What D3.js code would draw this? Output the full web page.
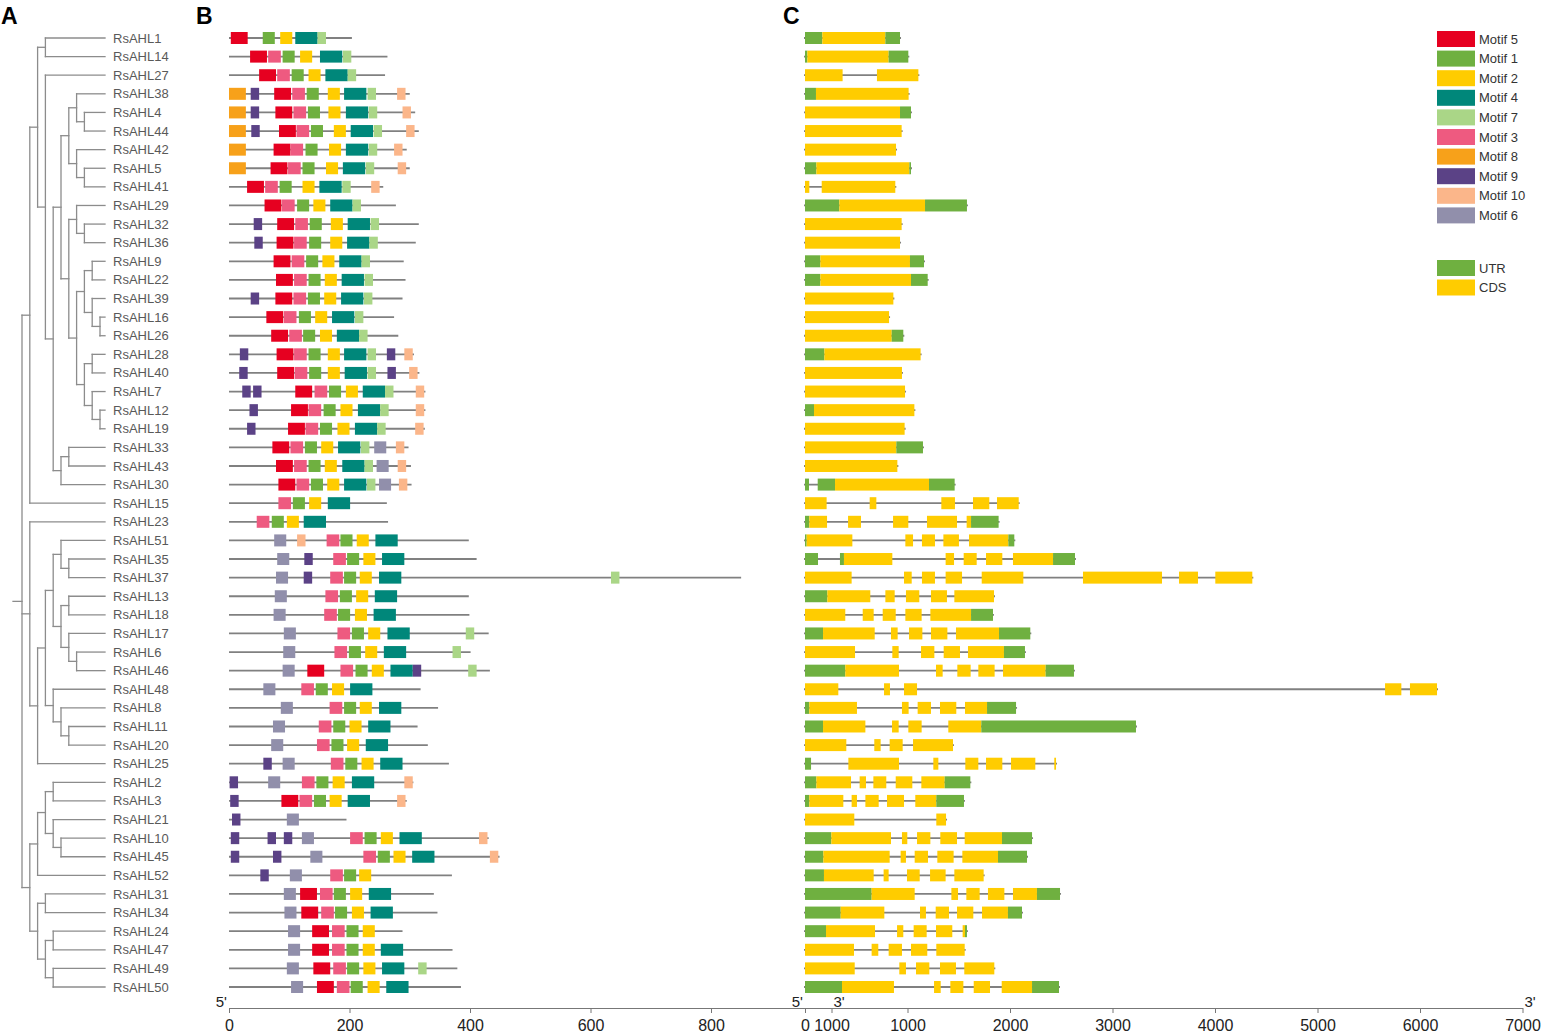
<!DOCTYPE html>
<html lang="en">
<head>
<meta charset="UTF-8" />
<title>RsAHL motifs and gene structure</title>
<script src="https://cdn.jsdelivr.net/npm/d3@7"></script>
<style>
  body { margin: 0; background: #fff; }
  svg text { font-family: Arial, "Liberation Sans", sans-serif; }
</style>
</head>
<body>
<div class="chart"></div>
<script>
// gene order (top to bottom)
var genes = ['RsAHL1','RsAHL14','RsAHL27','RsAHL38','RsAHL4','RsAHL44','RsAHL42','RsAHL5','RsAHL41','RsAHL29',
  'RsAHL32','RsAHL36','RsAHL9','RsAHL22','RsAHL39','RsAHL16','RsAHL26','RsAHL28','RsAHL40','RsAHL7',
  'RsAHL12','RsAHL19','RsAHL33','RsAHL43','RsAHL30','RsAHL15','RsAHL23','RsAHL51','RsAHL35','RsAHL37',
  'RsAHL13','RsAHL18','RsAHL17','RsAHL6','RsAHL46','RsAHL48','RsAHL8','RsAHL11','RsAHL20','RsAHL25',
  'RsAHL2','RsAHL3','RsAHL21','RsAHL10','RsAHL45','RsAHL52','RsAHL31','RsAHL34','RsAHL24','RsAHL47',
  'RsAHL49','RsAHL50']

// tree topology as nested lists
var tree = [
  [[['RsAHL1', 'RsAHL14'],
    ['RsAHL27', [[[['RsAHL38', ['RsAHL4', 'RsAHL44']], ['RsAHL42', ['RsAHL5', 'RsAHL41']]],
      [['RsAHL29', ['RsAHL32', 'RsAHL36']],
       [[['RsAHL9', 'RsAHL22'], ['RsAHL39', ['RsAHL16', 'RsAHL26']]],
        [['RsAHL28', 'RsAHL40'], ['RsAHL7', ['RsAHL12', 'RsAHL19']]]]]],
     [['RsAHL33', 'RsAHL43'], 'RsAHL30']]]], 'RsAHL15'],
  ['RsAHL23', [[[['RsAHL51', ['RsAHL35', 'RsAHL37']], [['RsAHL13', 'RsAHL18'], ['RsAHL17', ['RsAHL6', 'RsAHL46']]]],
    ['RsAHL48', ['RsAHL8', ['RsAHL11', 'RsAHL20']]]], 'RsAHL25']],
  [[[['RsAHL2', 'RsAHL3'], ['RsAHL21', ['RsAHL10', 'RsAHL45']]], 'RsAHL52'],
   [['RsAHL31', 'RsAHL34'], [['RsAHL24', 'RsAHL47'], ['RsAHL49', 'RsAHL50']]]]
]

// legend order of motifs
var motifOrder = [5, 1, 2, 4, 7, 3, 8, 9, 10, 6]
var motifColor = { 5: '#E60020', 1: '#6FB040', 2: '#FFCC00', 4: '#00877A', 7: '#AAD687',
  3: '#EE5A80', 8: '#F7A11A', 9: '#5B4286', 10: '#FBB68A', 6: '#918FAB' }
// motif widths (aa)
var motifWidth = { 5: 28, 1: 20, 2: 20, 4: 37, 7: 14, 3: 21, 8: 28, 9: 14, 10: 14, 6: 20 }

// protein length (aa)
var proteinLen = [204, 263, 259, 300, 309, 315, 295, 300, 256, 277,
  315, 310, 290, 293, 288, 274, 281, 307, 316, 326,
  326, 325, 298, 302, 303, 262, 264, 398, 411, 850,
  398, 399, 431, 401, 433, 318, 347, 313, 330, 365,
  306, 295, 195, 431, 449, 370, 340, 346, 288, 371,
  379, 385]

// motif sites: [motif, start aa]
var motifSites = [
  [[5,3],[1,56],[2,85],[4,110],[7,147]],
  [[5,35],[3,65],[1,89],[2,118],[4,151],[7,189]],
  [[5,50],[3,80],[1,104],[2,132],[4,160],[7,197]],
  [[8,0],[9,36],[5,75],[3,105],[1,129],[2,164],[4,191],[7,230],[10,279]],
  [[8,0],[9,36],[5,77],[3,107],[1,131],[2,165],[4,194],[7,232],[10,288]],
  [[8,0],[9,37],[5,83],[3,112],[1,136],[2,174],[4,202],[7,240],[10,294]],
  [[8,0],[5,74],[3,102],[1,127],[2,166],[4,194],[7,232],[10,274]],
  [[8,0],[5,69],[3,98],[1,122],[2,161],[4,189],[7,227],[10,280]],
  [[5,30],[3,60],[1,84],[2,122],[4,150],[7,188],[10,236]],
  [[5,59],[3,88],[1,113],[2,140],[4,168],[7,205]],
  [[9,41],[5,80],[3,110],[1,134],[2,169],[4,197],[7,235]],
  [[9,42],[5,79],[3,108],[1,133],[2,168],[4,196],[7,233]],
  [[5,74],[3,104],[1,128],[2,155],[4,183],[7,220]],
  [[5,78],[3,108],[1,132],[2,159],[4,187],[7,225]],
  [[9,36],[5,77],[3,107],[1,131],[2,158],[4,186],[7,224]],
  [[5,62],[3,91],[1,116],[2,143],[4,171],[7,209]],
  [[5,70],[3,100],[1,123],[2,151],[4,179],[7,216]],
  [[9,18],[5,79],[3,108],[1,132],[2,164],[4,191],[7,230],[9,262],[10,291]],
  [[9,17],[5,80],[3,109],[1,133],[2,164],[4,192],[7,230],[9,263],[10,299]],
  [[9,22],[9,40],[5,110],[3,142],[1,166],[2,194],[4,222],[7,259],[10,310]],
  [[9,34],[5,103],[3,132],[1,157],[2,185],[4,214],[7,251],[10,310]],
  [[9,30],[5,98],[3,127],[1,151],[2,180],[4,209],[7,246],[10,309]],
  [[5,72],[3,102],[1,126],[2,153],[4,181],[7,219],[6,241],[10,277]],
  [[5,78],[3,108],[1,132],[2,159],[4,188],[7,225],[6,245],[10,280]],
  [[5,82],[3,112],[1,136],[2,163],[4,191],[7,229],[6,249],[10,282]],
  [[3,82],[1,106],[2,133],[4,164]],
  [[3,46],[1,71],[2,96],[4,124]],
  [[6,75],[10,113],[3,162],[1,185],[2,212],[4,243]],
  [[6,80],[9,125],[3,173],[1,196],[2,223],[4,254]],
  [[6,78],[9,124],[3,168],[1,191],[2,217],[4,249],[7,634]],
  [[6,76],[3,160],[1,184],[2,211],[4,242]],
  [[6,74],[3,158],[1,181],[2,209],[4,240]],
  [[6,91],[3,180],[1,204],[2,231],[4,263],[7,393]],
  [[6,90],[3,175],[1,199],[2,226],[4,257],[7,371]],
  [[6,89],[5,130],[3,185],[1,210],[2,237],[4,268],[9,305],[7,397]],
  [[6,57],[3,120],[1,144],[2,171],[4,201]],
  [[6,86],[3,167],[1,191],[2,217],[4,249]],
  [[6,73],[3,149],[1,173],[2,200],[4,231]],
  [[6,70],[3,146],[1,170],[2,196],[4,227]],
  [[9,57],[6,89],[3,169],[1,193],[2,220],[4,251]],
  [[9,1],[6,65],[3,121],[1,145],[2,172],[4,204],[10,291]],
  [[9,2],[5,87],[3,117],[1,141],[2,167],[4,197],[10,279]],
  [[9,5],[6,96]],
  [[9,3],[9,64],[9,91],[6,121],[3,201],[1,225],[2,252],[4,283],[10,415]],
  [[9,3],[9,73],[6,135],[3,223],[1,247],[2,273],[4,304],[10,433]],
  [[9,52],[6,101],[3,168],[1,191],[2,216]],
  [[6,91],[5,118],[3,151],[1,174],[2,201],[4,232]],
  [[6,92],[5,120],[3,153],[1,176],[2,204],[4,235]],
  [[6,98],[5,138],[3,171],[1,195],[2,222]],
  [[6,98],[5,138],[3,171],[1,195],[2,222],[4,252]],
  [[6,96],[5,140],[3,173],[1,196],[2,223],[4,254],[7,314]],
  [[6,103],[5,146],[3,179],[1,202],[2,230],[4,261]]
]

// gene structure: [type, start bp, end bp]
var structure = [
  [['UTR',0,169],['CDS',169,784],['UTR',784,927]],
  [['UTR',0,23],['CDS',23,816],['UTR',816,1008]],
  [['CDS',0,367],['CDS',702,1106]],
  [['UTR',0,107],['CDS',107,1011]],
  [['CDS',0,927],['UTR',927,1034]],
  [['CDS',0,943]],
  [['CDS',0,888]],
  [['UTR',0,111],['CDS',111,1018],['UTR',1018,1034]],
  [['CDS',0,42],['CDS',163,881]],
  [['UTR',0,335],['CDS',335,1171],['UTR',1171,1580]],
  [['CDS',0,943]],
  [['CDS',0,927]],
  [['UTR',0,150],['CDS',150,1024],['UTR',1024,1161]],
  [['UTR',0,150],['CDS',150,1034],['UTR',1034,1197]],
  [['CDS',0,862]],
  [['CDS',0,820]],
  [['CDS',0,846],['UTR',846,959]],
  [['UTR',0,189],['CDS',189,1128]],
  [['CDS',0,946]],
  [['CDS',0,976]],
  [['UTR',0,88],['CDS',88,1067]],
  [['CDS',0,972]],
  [['CDS',0,891],['UTR',891,1151]],
  [['CDS',0,901]],
  [['UTR',0,39],['UTR',124,293],['CDS',293,1210],['UTR',1210,1460]],
  [['CDS',0,211],['CDS',631,696],['CDS',1330,1463],['CDS',1639,1798],['CDS',1873,2085]],
  [['UTR',0,42],['CDS',42,215],['CDS',420,546],['CDS',859,1008],['CDS',1190,1483],['CDS',1577,1620],['UTR',1620,1889]],
  [['UTR',0,16],['CDS',16,462],['CDS',979,1054],['CDS',1141,1268],['CDS',1350,1502],['CDS',1600,1984],['UTR',1984,2042]],
  [['UTR',0,127],['UTR',341,380],['CDS',380,852],['CDS',1372,1454],['CDS',1548,1675],['CDS',1766,1925],['CDS',2029,2420],['UTR',2420,2634]],
  [['CDS',0,455],['CDS',966,1041],['CDS',1141,1268],['CDS',1372,1532],['CDS',1724,2130],['CDS',2712,3483],['CDS',3649,3834],['CDS',4003,4364]],
  [['UTR',0,218],['CDS',218,637],['CDS',784,875],['CDS',985,1115],['CDS',1229,1385],['CDS',1457,1844]],
  [['CDS',0,393],['CDS',563,670],['CDS',758,885],['CDS',979,1138],['CDS',1223,1620],['UTR',1620,1834]],
  [['UTR',0,176],['CDS',176,680],['CDS',839,904],['CDS',1015,1145],['CDS',1229,1389],['CDS',1473,1893],['UTR',1893,2198]],
  [['CDS',0,488],['CDS',852,914],['CDS',1132,1262],['CDS',1353,1512],['CDS',1590,1941],['UTR',1941,2146]],
  [['UTR',0,393],['CDS',393,917],['CDS',1278,1343],['CDS',1486,1616],['CDS',1691,1850],['CDS',1932,2348],['UTR',2348,2624]],
  [['CDS',0,325],['CDS',771,829],['CDS',966,1093],['CDS',5659,5818],['CDS',5902,6166]],
  [['UTR',0,42],['CDS',42,507],['CDS',946,1011],['CDS',1099,1229],['CDS',1317,1476],['CDS',1561,1776],['UTR',1776,2059]],
  [['UTR',0,176],['CDS',176,589],['CDS',849,914],['CDS',1008,1138],['CDS',1398,1720],['UTR',1720,3229]],
  [['CDS',0,403],['CDS',676,738],['CDS',826,953],['CDS',1054,1444]],
  [['UTR',0,59],['CDS',423,917],['CDS',1252,1301],['CDS',1564,1691],['CDS',1766,1925],['CDS',2010,2247],['CDS',2432,2449]],
  [['UTR',0,111],['CDS',111,449],['CDS',533,595],['CDS',667,793],['CDS',885,1047],['CDS',1135,1363],['UTR',1363,1613]],
  [['UTR',0,42],['CDS',42,374],['CDS',455,507],['CDS',589,719],['CDS',800,966],['CDS',1076,1281],['UTR',1281,1551]],
  [['CDS',0,481],['CDS',1281,1376]],
  [['UTR',0,257],['CDS',257,839],['CDS',946,998],['CDS',1093,1223],['CDS',1320,1483],['CDS',1558,1922],['UTR',1922,2215]],
  [['UTR',0,179],['CDS',179,826],['CDS',933,985],['CDS',1070,1200],['CDS',1291,1450],['CDS',1535,1883],['UTR',1883,2166]],
  [['UTR',0,185],['CDS',185,670],['CDS',767,816],['CDS',995,1119],['CDS',1220,1372],['CDS',1457,1743]],
  [['UTR',0,650],['CDS',650,1070],['CDS',1428,1493],['CDS',1574,1704],['CDS',1785,1945],['CDS',2029,2263],['UTR',2263,2488]],
  [['UTR',0,348],['CDS',348,774],['CDS',1122,1180],['CDS',1275,1405],['CDS',1483,1642],['CDS',1727,1980],['UTR',1980,2117]],
  [['UTR',0,205],['CDS',205,683],['CDS',898,959],['CDS',1060,1187],['CDS',1278,1437],['CDS',1538,1561],['UTR',1561,1580]],
  [['CDS',0,478],['CDS',650,715],['CDS',816,946],['CDS',1034,1193],['CDS',1281,1558]],
  [['CDS',0,485],['CDS',920,985],['CDS',1083,1213],['CDS',1317,1473],['CDS',1554,1847]],
  [['UTR',0,361],['CDS',361,868],['CDS',1259,1324],['CDS',1418,1545],['CDS',1646,1805],['CDS',1919,2215],['UTR',2215,2478]]
]

var partColor = { UTR: '#6FB040', CDS: '#FFCC00' }
var ticksB = [0, 200, 400, 600, 800, 1000]
var ticksC = [0, 1000, 2000, 3000, 4000, 5000, 6000, 7000]

var W = 1544, H = 1035
var svg = d3.select('.chart').append('svg').attr('width', W).attr('height', H)

var yScale = d3.scalePoint().domain(genes).range([38, 987])
var xDepth = d3.scaleLinear().domain([0, 10]).range([22, 100])
var leafX = 105
var xB = d3.scaleLinear().domain([0, 1000]).range([229, 831.5])
var xC = d3.scaleLinear().domain([0, 7000]).range([805, 1522.5])
var boxH = 12

/*
 * A: tree
 **/
var root = d3.hierarchy(tree, (d) => (Array.isArray(d) ? d : null))
root.eachAfter((n) => {
  if (n.children) {
    n.py = (n.children[0].py + n.children[n.children.length - 1].py) / 2
    n.px = xDepth(n.depth)
  } else {
    n.py = yScale(n.data)
    n.px = leafX
  }
})
var gTree = svg.append('g').attr('stroke', '#8c8c8c').attr('stroke-width', 1.3).attr('fill', 'none')
var segs = [[xDepth(0) - 9, root.py, xDepth(0), root.py]]
root.each((n) => {
  if (!n.children) return
  var c = n.children
  segs.push([n.px, c[0].py, n.px, c[c.length - 1].py])
  c.forEach((k) => segs.push([n.px, k.py, k.px, k.py]))
})
gTree.selectAll('line').data(segs).enter().append('line')
  .attr('x1', (d) => d[0]).attr('y1', (d) => d[1]).attr('x2', (d) => d[2]).attr('y2', (d) => d[3])
  .attr('stroke-linecap', 'square')

svg.append('g').selectAll('text').data(genes).enter().append('text')
  .attr('x', 113).attr('y', (d) => yScale(d)).attr('dy', '0.35em')
  .style('font-size', '13px').style('fill', '#595959')
  .text((d) => d)

/*
 * B: motifs
 **/
var gB = svg.append('g')
gB.selectAll('line').data(genes).enter().append('line')
  .attr('x1', xB(0)).attr('x2', (d, i) => xB(proteinLen[i]))
  .attr('y1', (d) => yScale(d)).attr('y2', (d) => yScale(d))
  .attr('stroke', '#808080').attr('stroke-width', 1.8)

var sitesFlat = []
motifSites.forEach((row, i) => row.forEach((s) => sitesFlat.push({ gene: genes[i], motif: s[0], start: s[1] })))
gB.selectAll('rect').data(sitesFlat).enter().append('rect')
  .attr('x', (d) => xB(d.start))
  .attr('y', (d) => yScale(d.gene) - boxH / 2)
  .attr('width', (d) => xB(d.start + motifWidth[d.motif]) - xB(d.start))
  .attr('height', boxH)
  .style('fill', (d) => motifColor[d.motif])

/*
 * C: gene structure
 **/
var gC = svg.append('g')
gC.selectAll('line').data(genes).enter().append('line')
  .attr('x1', xC(0) - 1).attr('x2', (d, i) => xC(structure[i][structure[i].length - 1][2]) + 1)
  .attr('y1', (d) => yScale(d)).attr('y2', (d) => yScale(d))
  .attr('stroke', '#808080').attr('stroke-width', 1.8)

var partsFlat = []
structure.forEach((row, i) => row.forEach((p) => partsFlat.push({ gene: genes[i], type: p[0], s: p[1], e: p[2] })))
gC.selectAll('rect').data(partsFlat).enter().append('rect')
  .attr('x', (d) => xC(d.s))
  .attr('y', (d) => yScale(d.gene) - boxH / 2)
  .attr('width', (d) => xC(d.e) - xC(d.s))
  .attr('height', boxH)
  .style('fill', (d) => partColor[d.type])

/*
 * axes
 **/
var axisY = 1008
var fmt = d3.format('d')
svg.append('g').attr('transform', `translate(0, ${axisY})`)
  .call(d3.axisBottom(xB).tickValues(ticksB).tickFormat(fmt).tickSize(5).tickSizeOuter(0).tickPadding(7))
svg.append('g').attr('transform', `translate(0, ${axisY})`)
  .call(d3.axisBottom(xC).tickValues(ticksC).tickFormat(fmt).tickSize(5).tickSizeOuter(0).tickPadding(7))
svg.selectAll('.tick text').style('font-size', '16px').style('fill', '#222')
svg.selectAll('.domain, .tick line').attr('stroke', '#777')

var ends = [
  { t: "5'", x: xB(0) - 2, a: 'end' },
  { t: "3'", x: xB(1000) + 2, a: 'start' },
  { t: "5'", x: xC(0) - 2, a: 'end' },
  { t: "3'", x: xC(7000) + 2, a: 'start' }
]
svg.append('g').selectAll('text').data(ends).enter().append('text')
  .attr('x', (d) => d.x).attr('y', axisY - 1).attr('text-anchor', (d) => d.a)
  .style('font-size', '15px').style('fill', '#222').text((d) => d.t)

/*
 * panel letters
 **/
var letters = [['A', 1], ['B', 196], ['C', 783]]
svg.append('g').selectAll('text').data(letters).enter().append('text')
  .attr('x', (d) => d[1]).attr('y', 24)
  .style('font-size', '23px').style('font-weight', 'bold').style('fill', '#000')
  .text((d) => d[0])

/*
 * legend
 **/
var legendItems = motifOrder.map((m, i) => ({ label: 'Motif ' + m, color: motifColor[m], y: 39 + i * 19.6 }))
legendItems.push({ label: 'UTR', color: partColor.UTR, y: 268 })
legendItems.push({ label: 'CDS', color: partColor.CDS, y: 287.5 })
var lg = svg.append('g').selectAll('g').data(legendItems).enter().append('g')
  .attr('transform', (d) => `translate(1437, ${d.y})`)
lg.append('rect').attr('x', 0).attr('y', -8).attr('width', 38).attr('height', 16).style('fill', (d) => d.color)
lg.append('text').attr('x', 42).attr('dy', '0.35em').style('font-size', '13px').style('fill', '#333')
  .text((d) => d.label)
</script>
</body>
</html>
